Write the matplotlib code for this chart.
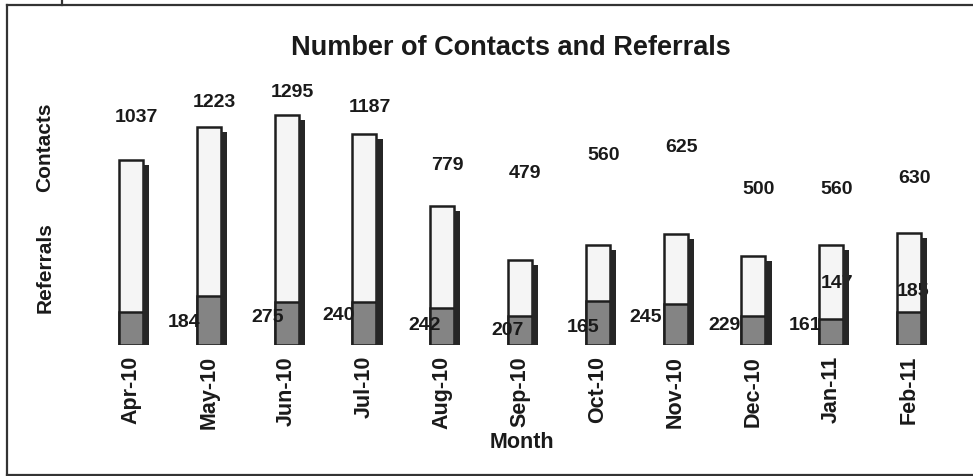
# Contacts and referrals per month
import numpy as np
from matplotlib import pyplot as plt
from matplotlib.lines import Line2D

plt.rcParams['font.family'] = ['Liberation Sans', 'DejaVu Sans']

months = ['Apr-10', 'May-10', 'Jun-10', 'Jul-10', 'Aug-10', 'Sep-10',
          'Oct-10', 'Nov-10', 'Dec-10', 'Jan-11', 'Feb-11']
contacts = [1037, 1223, 1295, 1187, 779, 479, 560, 625, 500, 560, 630]
referrals = [184, 275, 240, 242, 207, 165, 245, 229, 161, 147, 185]

# label placement (the original chart puts them a bit all over the place)
contact_lab_y = [1281, 1365, 1421, 1337, 1011, 966, 1067, 1107, 871, 871, 933]
ref_lab_dx = [0.68, 0.75, 0.67, 0.77, 0.84, 0.81, 0.62, 0.63, 0.66, 0.08, 0.05]
ref_lab_y = [129, 152, 163, 107, 79, 101, 157, 107, 112, 348, 298]

W, H = 973, 476
fig = plt.figure(figsize=(W / 100, H / 100), dpi=100)
fig.patch.set_facecolor('white')

ax = fig.add_axes([80 / W, 131 / H, 880 / W, 315 / H])
ax.set_xlim(-0.6555, 10.656)
ax.set_ylim(0, 1770)

x = np.arange(len(months))
bw = 0.31
sw = 0.08
ink = '#1e1e1e'

# shadow on the right side of each column
ax.bar(x + bw / 2 + sw / 2, np.array(contacts) - 28, width=sw,
       color='#262626', zorder=4)
ax.bar(x, contacts, width=bw, color='#f5f5f5', edgecolor=ink,
       linewidth=1.8, zorder=2)
ax.bar(x, referrals, width=bw, color='#848484', edgecolor=ink,
       linewidth=1.8, zorder=2.5)

for i in range(len(months)):
    ax.text(x[i] + 0.07, contact_lab_y[i], str(contacts[i]), ha='center',
            va='center', fontsize=14, fontweight='bold', color='#1a1a1a',
            zorder=5)
    ax.text(x[i] + ref_lab_dx[i], ref_lab_y[i], str(referrals[i]),
            ha='center', va='center', fontsize=14, fontweight='bold',
            color='#1a1a1a', zorder=3)

ax.set_xticks(x, months, rotation=90, fontsize=15.5, fontweight='bold',
              color='#1a1a1a')
ax.tick_params(axis='x', length=0, pad=8)
ax.set_yticks([])
for s in ax.spines.values():
    s.set_visible(False)
ax.patch.set_alpha(0)

fig.text(511 / W, 1 - 48 / H, 'Number of Contacts and Referrals',
         ha='center', va='center', fontsize=19.5, fontweight='bold',
         color='#1a1a1a')
fig.text(522 / W, 1 - 443 / H, 'Month', ha='center', va='center',
         fontsize=15.5, fontweight='bold', color='#1a1a1a')
fig.text(45 / W, 1 - 147 / H, 'Contacts', ha='center', va='center',
         rotation=90, fontsize=15, fontweight='bold', color='#1a1a1a')
fig.text(45 / W, 1 - 268 / H, 'Referrals', ha='center', va='center',
         rotation=90, fontsize=15, fontweight='bold', color='#1a1a1a')

# frame of the scanned chart
def px_line(xs, ys):
    fig.add_artist(Line2D([v / W for v in xs], [1 - v / H for v in ys],
                          color='#333333', linewidth=1.6))

px_line([7, 973], [4.5, 4.5])
px_line([7, 7], [4.5, 475])
px_line([7, 973], [475, 475])
px_line([62, 62], [0, 4.5])

fig.savefig('out.png', dpi=100)
